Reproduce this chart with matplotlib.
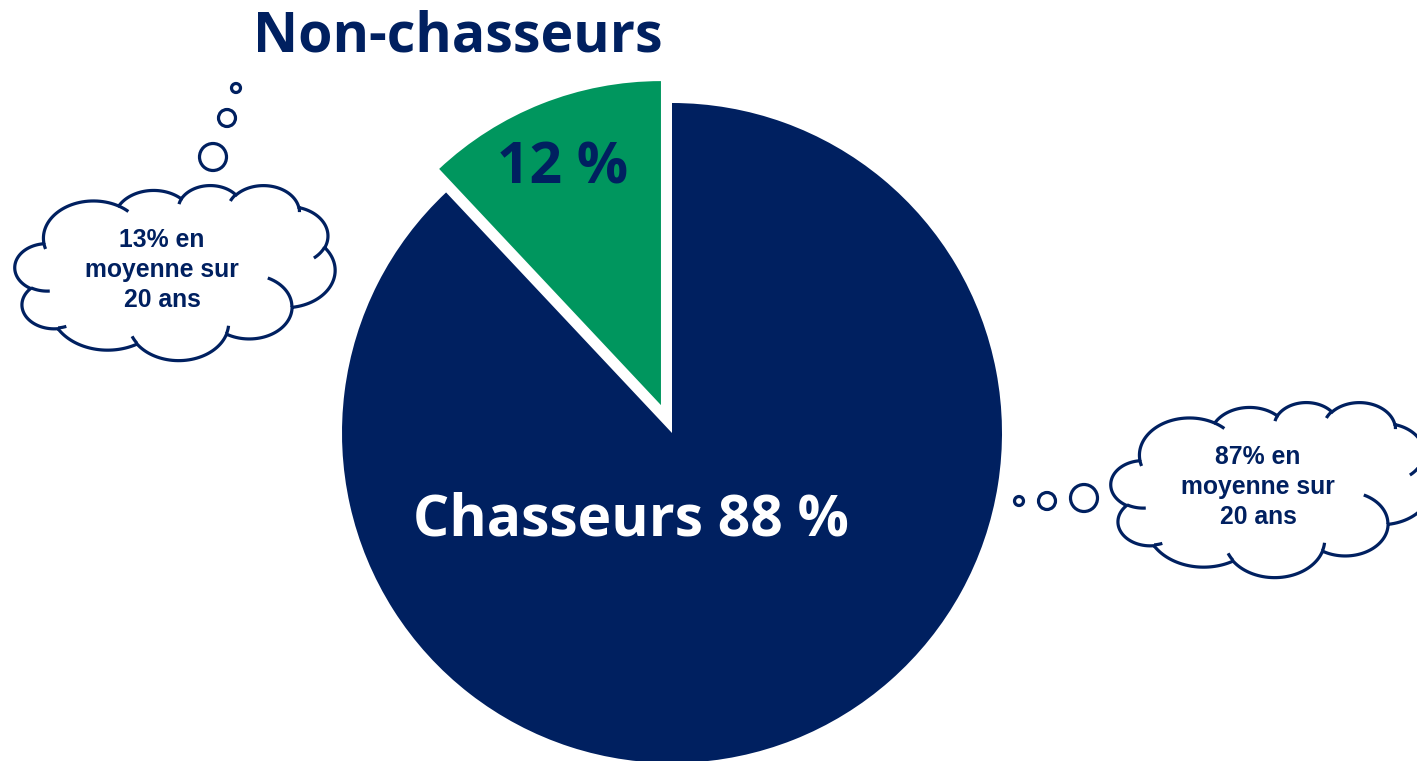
import numpy as np
import matplotlib
matplotlib.use("Agg")
import matplotlib.pyplot as plt
from matplotlib.path import Path
from matplotlib.patches import PathPatch, Circle

# ---- data ----
categories = ["Non-chasseurs", "Chasseurs"]
values = [12, 88]
value_labels = ["12 %", "Chasseurs 88 %"]
avg_labels = ["13% en\nmoyenne sur\n20 ans", "87% en\nmoyenne sur\n20 ans"]

NAVY = "#002060"
GREEN = "#00965E"
W, H = 1417, 761

fig = plt.figure(figsize=(W / 100, H / 100), dpi=100)
ax = fig.add_axes([0, 0, 1, 1])


def py(y):
    return H - y


wedges, _ = ax.pie(values, colors=[GREEN, NAVY], startangle=90, counterclock=True,
                   radius=330, center=(672, py(433)), explode=[30, 0])
wedges[0].set_radius(324)

# ---- cloud shape (PowerPoint-like cloud) ----
START = (3900, 14370)
OUTER = [(6753, 9190, -11429249, 7426832),
         (5333, 7267, -8646143, 5396714),
         (4365, 5945, -8748475, 5983381),
         (4857, 6595, -7859164, 7034504),
         (5333, 7273, -4722533, 6541615),
         (6775, 9220, -2776035, 7816140),
         (5785, 7867, 37501, 6842000),
         (6752, 9215, 1347096, 6910353),
         (7720, 10543, 3974558, 4542661),
         (4360, 5918, -16496525, 8804134),
         (4345, 5945, -14809710, 9151131)]
INNER = [((4693, 26177), 4345, 5945, 5204520, 1585770),
         ((6928, 34899), 4360, 5918, 4416628, 686848),
         ((16478, 39090), 6752, 9215, 8257449, 844866),
         ((28827, 34751), 6752, 9215, 387196, 959901),
         ((34129, 22954), 5785, 7867, -4217541, 4255042),
         ((41798, 15354), 5333, 7273, 1819082, 1665090),
         ((38324, 5426), 4857, 6595, -824660, 891534),
         ((29078, 3952), 4857, 6595, -8950887, 1091722),
         ((22141, 4720), 4365, 5945, -9809656, 1061181),
         ((14000, 5192), 6753, 9190, -4002417, 739161),
         ((4127, 15789), 6753, 9190, 9459261, 711490)]


def arc_points(p, wR, hR, st, sw, n=50):
    st = st / 60000.0
    sw = sw / 60000.0
    th = np.radians(np.linspace(st, st + sw, n))
    t = np.unwrap(np.arctan2(wR * np.sin(th), hR * np.cos(th)))
    cx = p[0] - wR * np.cos(t[0])
    cy = p[1] - hR * np.sin(t[0])
    return np.column_stack([cx + wR * np.cos(t), cy + hR * np.sin(t)])


def to_px(pts, x0, y0, cw, ch):
    pts = np.asarray(pts, float)
    X = x0 + pts[:, 0] / 43200.0 * cw
    Y = py(y0 + pts[:, 1] / 43200.0 * ch)
    return np.column_stack([X, Y])


def draw_cloud(x0, y0, cw, ch):
    pts = [np.array([START], float)]
    cur = START
    for wR, hR, st, sw in OUTER:
        a = arc_points(cur, wR, hR, st, sw)
        pts.append(a[1:])
        cur = a[-1]
    allp = np.vstack(pts)
    verts = to_px(allp, x0, y0, cw, ch)
    codes = [Path.MOVETO] + [Path.LINETO] * (len(verts) - 1)
    verts = np.vstack([verts, verts[:1]])
    codes.append(Path.CLOSEPOLY)
    ax.add_patch(PathPatch(Path(verts, codes), facecolor="white", edgecolor=NAVY,
                           lw=2.3, zorder=5))
    for p, wR, hR, st, sw in INNER:
        a = to_px(arc_points(p, wR, hR, st, sw, n=20), x0, y0, cw, ch)
        ax.plot(a[:, 0], a[:, 1], color=NAVY, lw=2.3, zorder=6, solid_capstyle="butt")


def bubbles(circles):
    for cx, cy, r in circles:
        ax.add_patch(Circle((cx, py(cy)), r, facecolor="white", edgecolor=NAVY,
                            lw=2.3, zorder=5))


draw_cloud(15, 185, 320, 175)
draw_cloud(1111, 402, 320, 175)
bubbles([(236, 88, 4.5), (227, 118, 8.5), (213, 157, 13.5)])
bubbles([(1019, 501, 4.5), (1047, 501, 8.5), (1084, 498, 13.5)])

TF = "Open Sans"
ax.text(458, py(37), categories[0], ha="center", va="center", fontsize=40,
        fontweight="bold", color=NAVY, family=TF)
ax.text(563, py(168), value_labels[0], ha="center", va="center", fontsize=41,
        fontweight="bold", color=NAVY, family=TF)
ax.text(631, py(520), value_labels[1], ha="center", va="center", fontsize=41,
        fontweight="bold", color="white", family=TF)

ax.text(162, py(270), avg_labels[0], ha="center", va="center", fontsize=17.8,
        fontweight="bold", color=NAVY, family="Liberation Sans", linespacing=1.3, zorder=7)
ax.text(1258, py(487), avg_labels[1], ha="center", va="center", fontsize=17.8,
        fontweight="bold", color=NAVY, family="Liberation Sans", linespacing=1.3, zorder=7)

ax.set_xlim(0, W)
ax.set_ylim(0, H)
ax.set_aspect("equal")
ax.axis("off")
fig.savefig("out.png", dpi=100, facecolor="white")
